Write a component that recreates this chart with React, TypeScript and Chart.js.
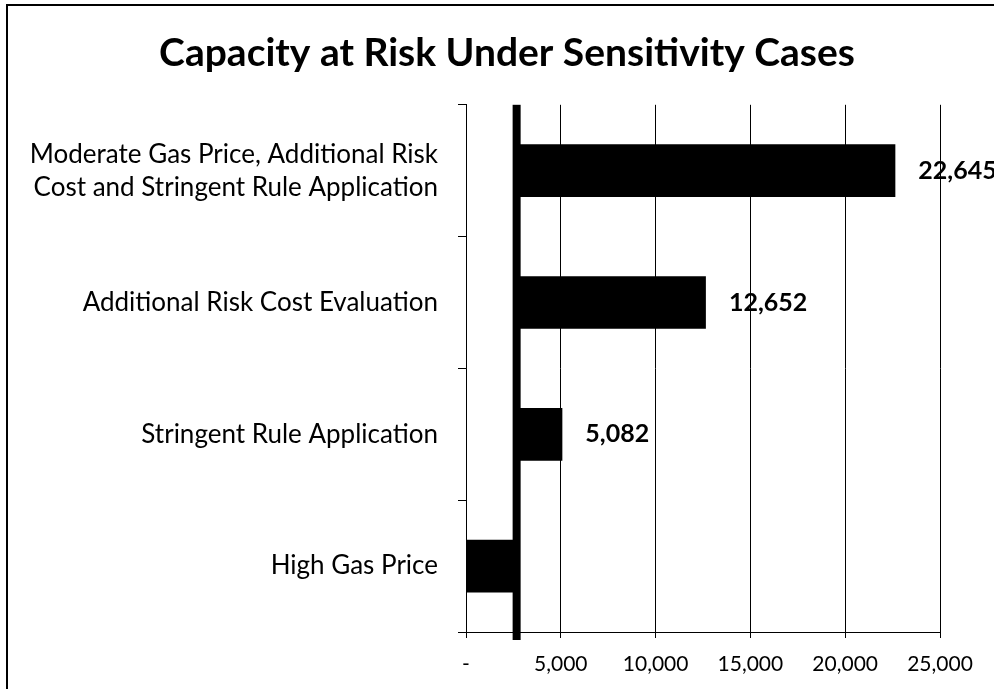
import React, { useEffect, useRef } from "react";
import { Chart, registerables } from "chart.js";

Chart.register(...registerables);

const TITLE = "Capacity at Risk Under Sensitivity Cases";
const categories: (string | string[])[] = [
  ["Moderate Gas Price, Additional Risk", "Cost and Stringent Rule Application"],
  "Additional Risk Cost Evaluation",
  "Stringent Rule Application",
  "High Gas Price",
];
const barStarts = [2670, 2670, 2670, 0];
const barEnds = [22645, 12652, 5082, 2670];
const showValue = [true, true, true, false];
const dividerValue = 2670;
const xMin = 0;
const xMax = 25000;
const xStep = 5000;

const FONT = "Lato, 'Open Sans', sans-serif";

const framePlugin = {
  id: "frame",
  beforeDraw(chart: any) {
    const { ctx, width, height } = chart;
    ctx.save();
    ctx.fillStyle = "#fff";
    ctx.fillRect(0, 0, width, height);
    ctx.strokeStyle = "#000";
    ctx.lineWidth = 2;
    ctx.beginPath();
    ctx.moveTo(7, height);
    ctx.lineTo(7, 5);
    ctx.lineTo(width, 5);
    ctx.stroke();
    ctx.restore();
  },
};

const overlayPlugin = {
  id: "overlay",
  afterDatasetsDraw(chart: any) {
    const { ctx, chartArea } = chart;
    const xs = chart.scales.x;
    ctx.save();
    const dx = xs.getPixelForValue(dividerValue);
    ctx.fillStyle = "#000";
    ctx.fillRect(dx - 4, chartArea.top, 8, chartArea.bottom - chartArea.top + 8);
    const meta = chart.getDatasetMeta(0);
    ctx.font = `bold 25px ${FONT}`;
    ctx.textAlign = "left";
    ctx.textBaseline = "middle";
    meta.data.forEach((bar: any, i: number) => {
      if (!showValue[i]) return;
      ctx.fillText(barEnds[i].toLocaleString("en-US"), bar.x + 23, bar.y);
    });
    ctx.restore();
  },
};

export default function App() {
  const ref = useRef<HTMLCanvasElement | null>(null);
  useEffect(() => {
    if (!ref.current) return;
    Chart.defaults.color = "#000";
    const chart = new Chart(ref.current, {
      type: "bar",
      data: {
        labels: categories,
        datasets: [
          {
            data: categories.map((_, i) => [barStarts[i], barEnds[i]]) as any,
            backgroundColor: "#000",
            borderWidth: 0,
            barPercentage: 0.4,
            categoryPercentage: 1,
          },
        ],
      },
      options: {
        indexAxis: "y",
        responsive: false,
        animation: false,
        layout: { padding: { left: 20, right: 0, top: 0, bottom: 0 } },
        plugins: {
          legend: { display: false },
          tooltip: { enabled: false },
          title: {
            display: true,
            text: TITLE,
            color: "#000",
            font: { family: FONT, size: 39, weight: "bold", lineHeight: 1.2 },
            padding: { top: 30, bottom: 28 },
          },
        },
        scales: {
          x: {
            type: "linear",
            min: xMin,
            max: xMax,
            afterFit(scale: any) {
              scale.height = 57;
              scale.paddingRight = 54;
            },
            ticks: {
              stepSize: xStep,
              color: "#000",
              padding: 14,
              maxRotation: 0,
              font: { family: FONT, size: 21 },
              callback: (v: any) => (Number(v) === 0 ? "-" : Number(v).toLocaleString("en-US")),
            },
            grid: {
              color: "#000",
              lineWidth: 1,
              borderDash: [4, 2],
              tickLength: 6,
              tickColor: "#000",
              tickBorderDash: [],
            } as any,
            border: { display: true, color: "#000", width: 1 },
          },
          y: {
            type: "category",
            afterFit(scale: any) {
              scale.width = 466 - 20;
            },
            ticks: {
              color: "#000",
              padding: 20,
              font: { family: FONT, size: 26, lineHeight: 1.27 },
            },
            grid: {
              offset: true,
              drawOnChartArea: false,
              tickLength: 8,
              color: "#000",
              lineWidth: 1,
            },
            border: { display: true, color: "#000", width: 1 },
          },
        },
      },
      plugins: [framePlugin, overlayPlugin],
    } as any);
    return () => chart.destroy();
  }, []);
  return (
    <div style={{ position: "absolute", left: 0, top: 0, width: 994, height: 689 }}>
      <canvas ref={ref} width={994} height={689} style={{ display: "block" }} />
    </div>
  );
}
